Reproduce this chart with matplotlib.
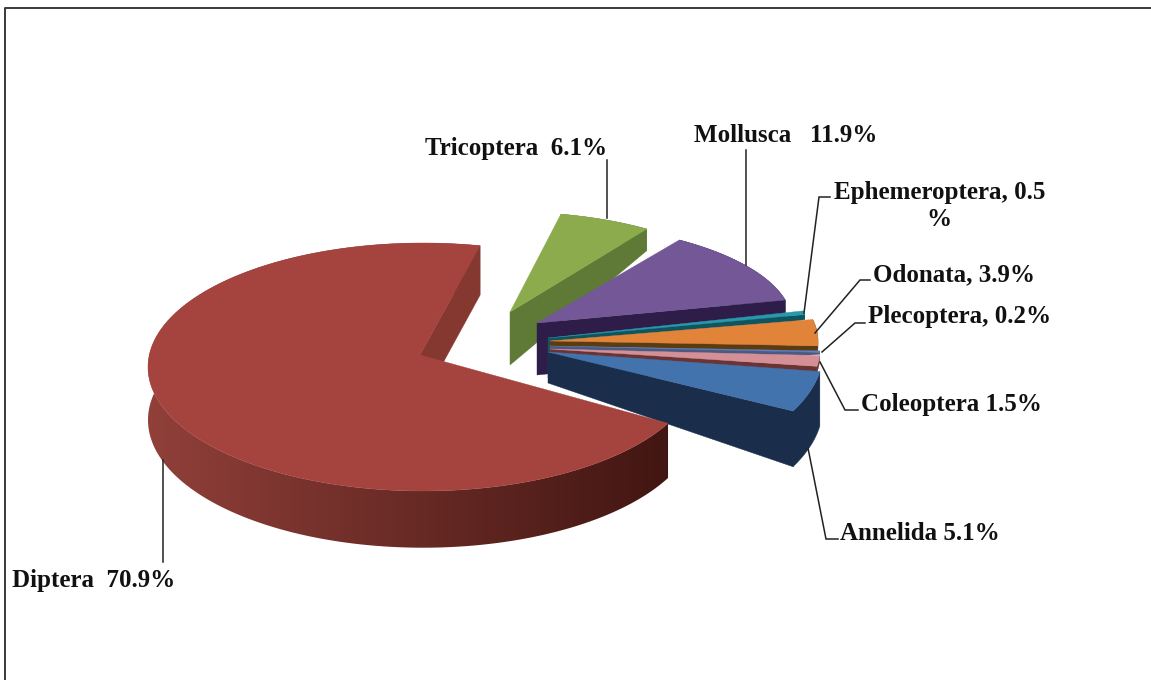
import numpy as np
import matplotlib
matplotlib.use("Agg")
import matplotlib.pyplot as plt
from matplotlib.patches import Polygon

taxa = ["Diptera", "Tricoptera", "Mollusca", "Ephemeroptera", "Odonata", "Plecoptera", "Coleoptera", "Annelida"]
shares = [70.9, 6.1, 11.9, 0.5, 3.9, 0.2, 1.5, 5.1]

top_colors = ["#a5443f", "#8cab4c", "#735796", "#2a98ab", "#e1843a", "#5f7fc0", "#d48f97", "#4273ad"]
wall_colors = ["#84382f", "#5f7a37", "#2e1d48", "#0f5560", "#5a3c10", "#4b5a80", "#6b3434", "#1a2e4c"]

# pie layout in pixels, one entry per slice
start_angle = -27
centre_x = [423, 510, 537, 548, 550, 550, 550, 548]
centre_y = [367, 312, 323, 338, 341, 346, 349, 352]
tip_x = [420, 510, 537, 548, 550, 550, 550, 548]
tip_y = [355, 312, 323, 338, 341, 346, 349, 352]
radius_x = [275, 245, 255, 262, 268, 270, 270, 275]
radius_y = [124, 100, 100, 118, 108, 110, 115, 130]
depth_tip = [50, 53, 52, 40, 30, 30, 30, 31]
depth_rim = [53, 23, 50, 5, 5, 2, 6, 54]
draw_order = [1, 2, 3, 4, 5, 6, 7, 0]

# label text, left edge, centre height
labels = [
    ("Diptera  70.9%", 12, 580),
    ("Tricoptera  6.1%", 425, 148),
    ("Mollusca   11.9%", 694, 135),
    ("Ephemeroptera, 0.5", 834, 192),
    ("Odonata, 3.9%", 873, 275),
    ("Plecoptera, 0.2%", 868, 317),
    ("Coleoptera 1.5%", 861, 405),
    ("Annelida 5.1%", 840, 534),
]
leaders = [
    [(163, 562), (163, 460)],
    [(607, 160), (607, 218)],
    [(746, 150), (746, 265)],
    [(830, 197), (819, 197), (804, 313)],
    [(870, 280), (860, 280), (815, 333)],
    [(865, 323), (855, 323), (822, 352)],
    [(858, 410), (845, 410), (820, 362)],
    [(838, 539), (826, 539), (808, 448)],
]

# colours across the rim of the big slice, left to right
rim_left = np.array([146, 64, 58]) / 255
rim_right = np.array([64, 21, 17]) / 255


def draw_slice(ax, i, a0, a1, z):
    angles = np.radians(np.linspace(a0, a1, 240))
    x = centre_x[i] + radius_x[i] * np.cos(angles)
    y = centre_y[i] - radius_y[i] * np.sin(angles)
    d = depth_rim[i] * (1 - 0.07 * np.sin(angles))

    # outer wall, the big slice has a gradient clipped to the wall shape
    wall = np.c_[np.r_[x, x[::-1]], np.r_[y, (y + d)[::-1]]]
    if i == 0:
        patch = Polygon(wall, closed=True, color="none", zorder=z)
        ax.add_patch(patch)
        t = np.linspace(0, 1, 256)[None, :, None]
        grad = rim_left + (rim_right - rim_left) * t
        im = ax.imshow(grad, extent=(140, 680, 680, 0), aspect="auto", zorder=z)
        im.set_clip_path(patch)
    else:
        ax.add_patch(Polygon(wall, closed=True, color=wall_colors[i], lw=0.3, zorder=z))

    # straight side face at the clockwise end, the other one is hidden
    face = [(tip_x[i], tip_y[i]), (x[-1], y[-1]), (x[-1], y[-1] + d[-1]), (tip_x[i], tip_y[i] + depth_tip[i])]
    ax.add_patch(Polygon(face, closed=True, color=wall_colors[i], lw=0.3, zorder=z + 1))

    # top face
    top = np.c_[np.r_[tip_x[i], x], np.r_[tip_y[i], y]]
    ax.add_patch(Polygon(top, closed=True, color=top_colors[i], lw=0.3, zorder=z + 2))


fig = plt.figure(figsize=(11.51, 6.8), dpi=100)
ax = fig.add_axes([0, 0, 1, 1])

# chart frame, right and bottom sides are cut off in the picture
ax.plot([5.5, 5.5, 1151], [680, 8, 8], color="#3a3a3a", lw=1.4)

sweep = np.array(shares) / sum(shares) * 360
ends = start_angle - np.cumsum(sweep)
starts = np.r_[start_angle, ends[:-1]]
for n, i in enumerate(draw_order):
    draw_slice(ax, i, starts[i], ends[i], 10 + 3 * n)

for pts in leaders:
    xs, ys = zip(*pts)
    ax.plot(xs, ys, color="#222222", lw=1.1, solid_joinstyle="miter", zorder=50)

for text, x, y in labels:
    ax.text(x, y, text, family="Liberation Serif", weight="bold", fontsize=18, color="#111111", ha="left", va="center")
ax.text(939, 220, "%", family="Liberation Serif", weight="bold", fontsize=18, color="#111111", ha="center", va="center")

ax.set_xlim(0, 1151)
ax.set_ylim(680, 0)
ax.axis("off")

fig.savefig("out.png", dpi=100)
